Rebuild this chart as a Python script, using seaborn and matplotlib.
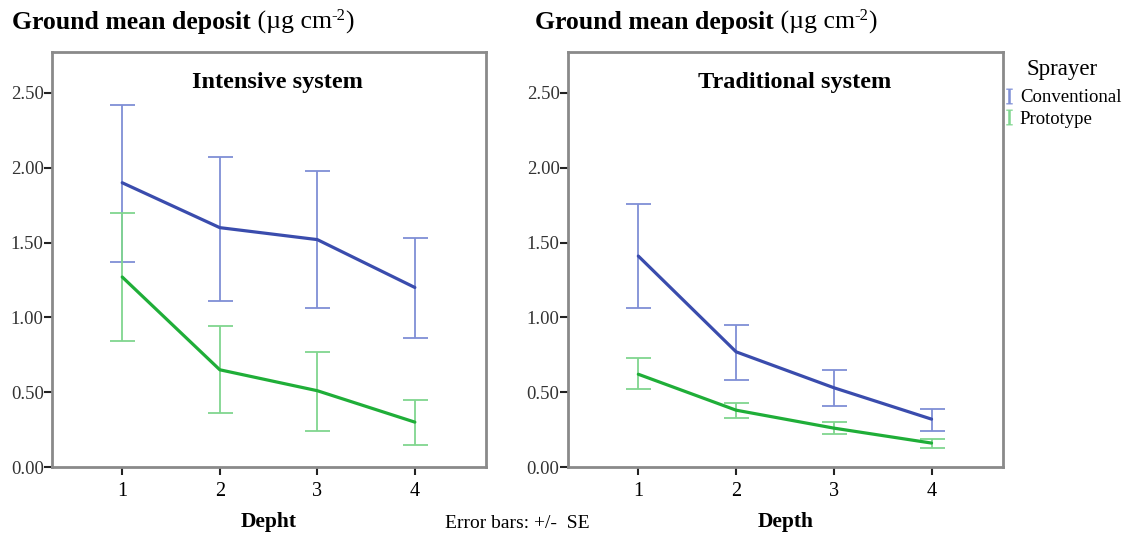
import numpy as np
import pandas as pd
import matplotlib.pyplot as plt
from matplotlib.lines import Line2D
import seaborn as sns

depth = [1, 2, 3, 4]
sprayers = ['Conventional', 'Prototype']

# Intensive system: means and ends of the +/- SE bars
int_conv_mean = [1.90, 1.60, 1.52, 1.20]
int_conv_low = [1.37, 1.11, 1.06, 0.86]
int_conv_high = [2.42, 2.07, 1.98, 1.53]
int_prot_mean = [1.27, 0.65, 0.51, 0.30]
int_prot_low = [0.84, 0.36, 0.24, 0.15]
int_prot_high = [1.70, 0.94, 0.77, 0.45]

# Traditional system
trad_conv_mean = [1.41, 0.77, 0.53, 0.32]
trad_conv_low = [1.06, 0.58, 0.41, 0.24]
trad_conv_high = [1.76, 0.95, 0.65, 0.39]
trad_prot_mean = [0.62, 0.38, 0.26, 0.16]
trad_prot_low = [0.52, 0.33, 0.22, 0.13]
trad_prot_high = [0.73, 0.43, 0.30, 0.19]

yticks = [0.0, 0.5, 1.0, 1.5, 2.0, 2.5]

line_colors = {'Conventional': '#3a4cad', 'Prototype': '#1fae38'}
bar_colors = {'Conventional': '#7f8fd6', 'Prototype': '#80d68f'}

sns.set_theme(style='white')
plt.rcParams['font.family'] = ['Liberation Serif', 'DejaVu Serif']
plt.rcParams['mathtext.fontset'] = 'custom'
plt.rcParams['mathtext.rm'] = 'Liberation Serif'
plt.rcParams['mathtext.it'] = 'Liberation Serif:italic'
plt.rcParams['text.color'] = 'black'
plt.rcParams['axes.labelcolor'] = 'black'
plt.rcParams['xtick.color'] = 'black'
plt.rcParams['ytick.color'] = 'black'

fig = plt.figure(figsize=(11.28, 5.36), dpi=100)
ax1 = fig.add_axes([0.0461, 0.1287, 0.3848, 0.7743])
ax2 = fig.add_axes([0.5035, 0.1287, 0.3856, 0.7743])

panels = [
    (ax1, 'Intensive system', 'Depht',
     {'Conventional': (int_conv_mean, int_conv_low, int_conv_high),
      'Prototype': (int_prot_mean, int_prot_low, int_prot_high)}),
    (ax2, 'Traditional system', 'Depth',
     {'Conventional': (trad_conv_mean, trad_conv_low, trad_conv_high),
      'Prototype': (trad_prot_mean, trad_prot_low, trad_prot_high)}),
]

for ax, title, xlab, data in panels:
    rows = []
    for s in sprayers:
        for d, m in zip(depth, data[s][0]):
            rows.append({'Depth': d, 'Deposit': m, 'Sprayer': s})
    df = pd.DataFrame(rows)
    sns.lineplot(data=df, x='Depth', y='Deposit', hue='Sprayer', palette=line_colors,
                 linewidth=2.3, ax=ax, legend=False, zorder=3)
    for s in sprayers:
        m, lo, hi = (np.array(v) for v in data[s])
        ax.errorbar(depth, m, yerr=[m - lo, hi - m], fmt='none', ecolor=bar_colors[s],
                    elinewidth=1.3, capsize=9, capthick=1.3, zorder=2)

    ax.set_xlim(0.28, 4.73)
    ax.set_ylim(0, 2.774)
    ax.set_xticks(depth)
    ax.set_yticks(yticks)
    ax.set_yticklabels([f'{v:.2f}' for v in yticks], fontsize=13.5, color='#333333')
    ax.set_xticklabels([str(d) for d in depth], fontsize=14.5)
    ax.tick_params(axis='both', direction='out', length=6, width=1.5, color='#222222', pad=0,
                   left=True, bottom=True)
    ax.tick_params(axis='x', pad=5)
    for sp in ax.spines.values():
        sp.set_color('#8a8a8a')
        sp.set_linewidth(2)
    ax.set_xlabel(xlab, fontsize=15.5, fontweight='bold', labelpad=8)
    ax.set_ylabel('')
    ax.text(0.52, 0.926, title, transform=ax.transAxes, ha='center', va='center',
            fontsize=17.5, fontweight='bold')

# headings above each panel: bold part, unit, raised "-2", closing bracket
for x0 in [12 / 1128, 535 / 1128]:
    t = fig.text(x0, 0.958, 'Ground mean deposit', fontsize=18.5, fontweight='bold',
                 ha='left', va='center')
    u = ax1.annotate(' (\u00b5g cm', xy=(1, 0.5), xycoords=t, ha='left', va='center',
                     fontsize=18.5, annotation_clip=False)
    sup = ax1.annotate('-2', xy=(1, 0.78), xycoords=u, ha='left', va='center',
                       fontsize=12, annotation_clip=False)
    ax1.annotate(')', xy=(1, 0.5), xycoords=(sup, u), ha='left', va='center',
                 fontsize=18.5, annotation_clip=False)

fig.text(517 / 1128, 1 - 524 / 536, 'Error bars: +/-  SE', fontsize=14, ha='center', va='center')

fig.text(1062 / 1128, 1 - 70 / 536, 'Sprayer', fontsize=16.5, ha='center', va='center')
handles = [Line2D([], [], linestyle='none', marker=r'$\mathrm{I}$', markersize=11,
                  color=bar_colors[s], markeredgewidth=0.3) for s in sprayers]
leg = fig.legend(handles, sprayers, loc='upper left',
                 bbox_to_anchor=(1003 / 1128, 1 - 89 / 536), frameon=False,
                 fontsize=13.5, handlelength=0.6, handletextpad=0.3,
                 labelspacing=0.25, borderaxespad=0, borderpad=0)

fig.savefig('out.png', dpi=100)
